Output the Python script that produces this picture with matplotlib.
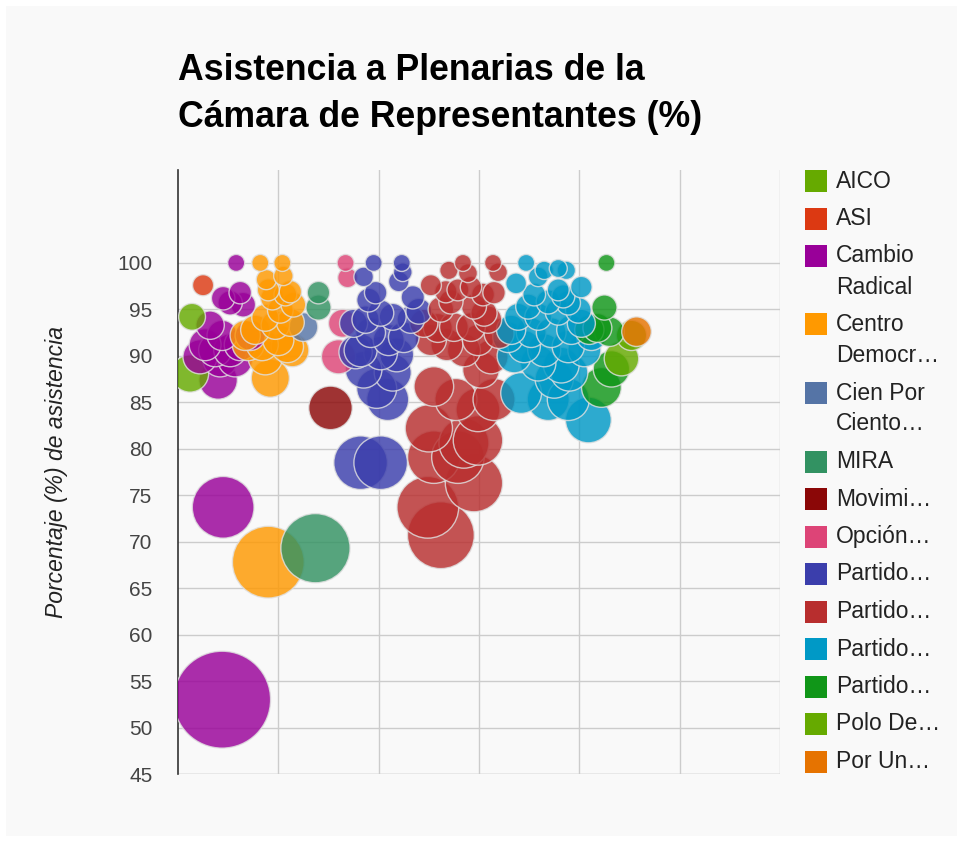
import matplotlib
matplotlib.use("Agg")
import matplotlib.pyplot as plt
from matplotlib.patches import Rectangle
import numpy as np

plt.rcParams['font.family'] = ['Liberation Sans', 'DejaVu Sans']

# ---------------- data ----------------
parties = ["AICO", "ASI", "Cambio\nRadical", "Centro\nDemocr…", "Cien Por\nCiento…", "MIRA",
           "Movimi…", "Opción…", "Partido…", "Partido…", "Partido…", "Partido…", "Polo De…", "Por Un…"]
colors = ["#66aa00", "#dc3912", "#990099", "#ff9900", "#5574a6", "#329262",
          "#8b0707", "#dd4477", "#3b3eac", "#b82e2e", "#0099c6", "#109618", "#66aa00", "#e67300"]

aico_x = [0.14, 0.12]
aico_y = [94.2, 88.1]
asi_x = [0.25]
asi_y = [97.6]
cambio_x = [0.58, 0.62, 0.45, 0.52, 0.65, 0.32, 0.44, 0.27, 0.37, 0.52, 0.62, 0.22, 0.42, 0.57, 0.40, 0.72, 0.45, 0.44]
cambio_y = [100, 96.8, 96.2, 95.7, 95.5, 93.3, 92.2, 91.2, 90.6, 90.6, 91.2, 89.9, 89.6, 89.6, 87.4, 92.2, 73.7, 53.0]
centro_x = [0.82, 1.04, 0.88, 1.05, 0.90, 1.07, 0.94, 1.12, 1.02, 1.15, 0.87, 0.77, 0.97, 1.12, 0.70, 0.84, 1.00, 1.14, 0.87, 0.92, 0.67, 1.09, 0.90]
centro_y = [100, 100, 98.2, 98.6, 97.1, 96.6, 96.2, 96.9, 94.9, 95.5, 94.1, 92.8, 93.3, 93.6, 91.2, 91.2, 91.7, 90.6, 89.8, 87.6, 92.2, 91.0, 67.8]
cien_x = [1.25]
cien_y = [93.1]
mira_x = [1.40, 1.40, 1.37]
mira_y = [96.8, 95.2, 69.3]
mov_x = [1.52]
mov_y = [84.4]
opcion_x = [1.67, 1.69, 1.64, 1.60]
opcion_y = [100, 98.4, 93.5, 89.9]
azul_x = [1.95, 2.23, 1.85, 2.24, 2.20, 1.97, 2.34, 1.87, 2.02, 2.14, 2.32, 1.92, 2.10, 1.82, 2.02,
          1.85, 2.14, 2.09, 1.82, 2.02, 1.75, 1.77, 2.25, 1.98, 1.90, 2.40, 2.18]
azul_y = [100, 100, 98.5, 99.0, 98.0, 96.8, 96.3, 93.9, 94.6, 94.2, 93.9, 92.5, 91.7, 90.6, 90.3,
          88.5, 88.2, 85.3, 78.5, 78.5, 93.5, 90.4, 92.0, 86.5, 96.0, 94.8, 90.1]
rojo_x = [2.84, 3.14, 2.70, 2.89, 3.19, 2.52, 2.67, 2.79, 2.92, 3.04, 3.15, 2.72, 2.95, 2.59, 2.75,
          2.92, 3.09, 2.52, 2.99, 2.85, 3.12, 2.55, 2.77, 3.15, 2.50, 2.99, 2.55, 2.79, 2.95, 2.49,
          2.62, 2.99, 2.85, 2.62, 3.05, 2.68, 3.02, 2.45, 3.20]
rojo_y = [100, 100, 99.2, 98.9, 99.0, 97.6, 96.9, 97.1, 97.4, 96.6, 96.8, 95.8, 95.3, 93.0, 93.1,
          93.1, 93.9, 91.7, 91.7, 90.6, 89.9, 86.7, 85.3, 85.3, 82.2, 80.9, 79.1, 79.1, 76.3, 73.7,
          70.7, 84.2, 80.6, 95.0, 94.6, 91.2, 88.5, 93.5, 92.4]
cyan_x = [3.47, 3.65, 3.79, 3.87, 3.37, 3.59, 4.02, 3.79, 3.69, 3.89, 3.49, 3.39, 3.59, 3.79, 3.99,
          3.32, 3.52, 3.72, 3.92, 4.02, 3.45, 3.65, 3.89, 4.05, 3.59, 3.82, 3.42, 3.69, 3.90, 3.89,
          4.09, 3.29, 3.55, 3.84, 3.35, 3.75, 4.12]
cyan_y = [100, 99.2, 99.4, 99.2, 97.8, 98.5, 97.4, 97.1, 95.8, 95.7, 95.3, 94.2, 94.2, 94.7, 94.9,
          92.8, 92.5, 92.5, 92.8, 93.5, 91.0, 90.6, 91.0, 90.6, 89.2, 89.0, 86.0, 85.3, 88.2, 85.3,
          83.1, 92.0, 96.6, 96.4, 90.0, 87.5, 92.2]
verde_x = [4.27, 4.25, 4.18, 4.30, 4.10, 4.32, 4.22]
verde_y = [100, 95.2, 93.0, 92.6, 92.8, 88.6, 86.6]
polo_x = [4.52, 4.42]
polo_y = [92.2, 89.7]
porun_x = [4.57]
porun_y = [92.6]

series_x = [aico_x, asi_x, cambio_x, centro_x, cien_x, mira_x, mov_x, opcion_x,
            azul_x, rojo_x, cyan_x, verde_x, polo_x, porun_x]
series_y = [aico_y, asi_y, cambio_y, centro_y, cien_y, mira_y, mov_y, opcion_y,
            azul_y, rojo_y, cyan_y, verde_y, polo_y, porun_y]

yticks = [45, 50, 55, 60, 65, 70, 75, 80, 85, 90, 95, 100]

# ---------------- figure ----------------
W, H = 963, 842
fig = plt.figure(figsize=(W / 100, H / 100), dpi=100, facecolor="white")
fig.add_artist(Rectangle((6 / W, 6 / H), (W - 12) / W, (H - 12) / H, transform=fig.transFigure,
                         facecolor="#f9f9f9", edgecolor="none", zorder=-10))

ax = fig.add_axes([178 / W, (H - 774) / H, 602 / W, 604 / H])
ax.set_facecolor("none")
ax.set_xlim(0, 6)
ax.set_ylim(45, 110)

# collect bubbles, size = absence percentage, draw largest first
xs, ys, cs = [], [], []
for sx, sy, c in zip(series_x, series_y, colors):
    xs += sx
    ys += sy
    cs += [c] * len(sx)
xs = np.array(xs); ys = np.array(ys)
absence = 100 - ys
r_px = 8.5 + 0.85 * absence
order = np.argsort(-r_px, kind="stable")
sizes = (2 * r_px * 0.72) ** 2
ax.scatter(xs[order], ys[order], s=sizes[order], c=[cs[i] for i in order], alpha=0.82,
           edgecolors="#e0e0e0", linewidths=1.0, zorder=3)

ax.set_yticks(yticks)
ax.set_xticks([1, 2, 3, 4, 5, 6])
ax.grid(True, color="#cccccc", linewidth=1.0, zorder=0)
ax.set_axisbelow(True)
ax.tick_params(axis="x", length=0, labelbottom=False)
ax.tick_params(axis="y", length=0, labelsize=15, labelcolor="#444444", pad=18.5)
for sp in ["top", "right", "bottom"]:
    ax.spines[sp].set_visible(False)
ax.spines["left"].set_color("#333333")
ax.spines["left"].set_linewidth(1.2)
ax.axhline(45, color="#cccccc", linewidth=1.0, zorder=0)

yl = ax.set_ylabel("Porcentaje (%) de asistencia", fontsize=16.5, style="italic", color="#222222")
yl.set_verticalalignment("center")
ax.yaxis.set_label_coords(-(178 - 57) / 602, (774 - 472) / 604)

# title
fig.text(178 / W, 1 - 80 / H, "Asistencia a Plenarias de la", fontsize=25.7, fontweight="bold",
         color="#000000", ha="left", va="baseline")
fig.text(178 / W, 1 - 127 / H, "Cámara de Representantes (%)", fontsize=25.7, fontweight="bold",
         color="#000000", ha="left", va="baseline")

# legend
y = 181
for lab, c in zip(parties, colors):
    fig.add_artist(Rectangle((805 / W, 1 - (y + 11) / H), 22 / W, 22 / H, transform=fig.transFigure,
                             facecolor=c, edgecolor="none"))
    lines = lab.split("\n")
    for k, ln in enumerate(lines):
        fig.text(836 / W, 1 - (y + 31 * k) / H, ln, fontsize=16.5, color="#222222",
                 ha="left", va="center")
    y += 37.5 + 31 * (len(lines) - 1)

fig.savefig("out.png", dpi=100, facecolor=fig.get_facecolor())
